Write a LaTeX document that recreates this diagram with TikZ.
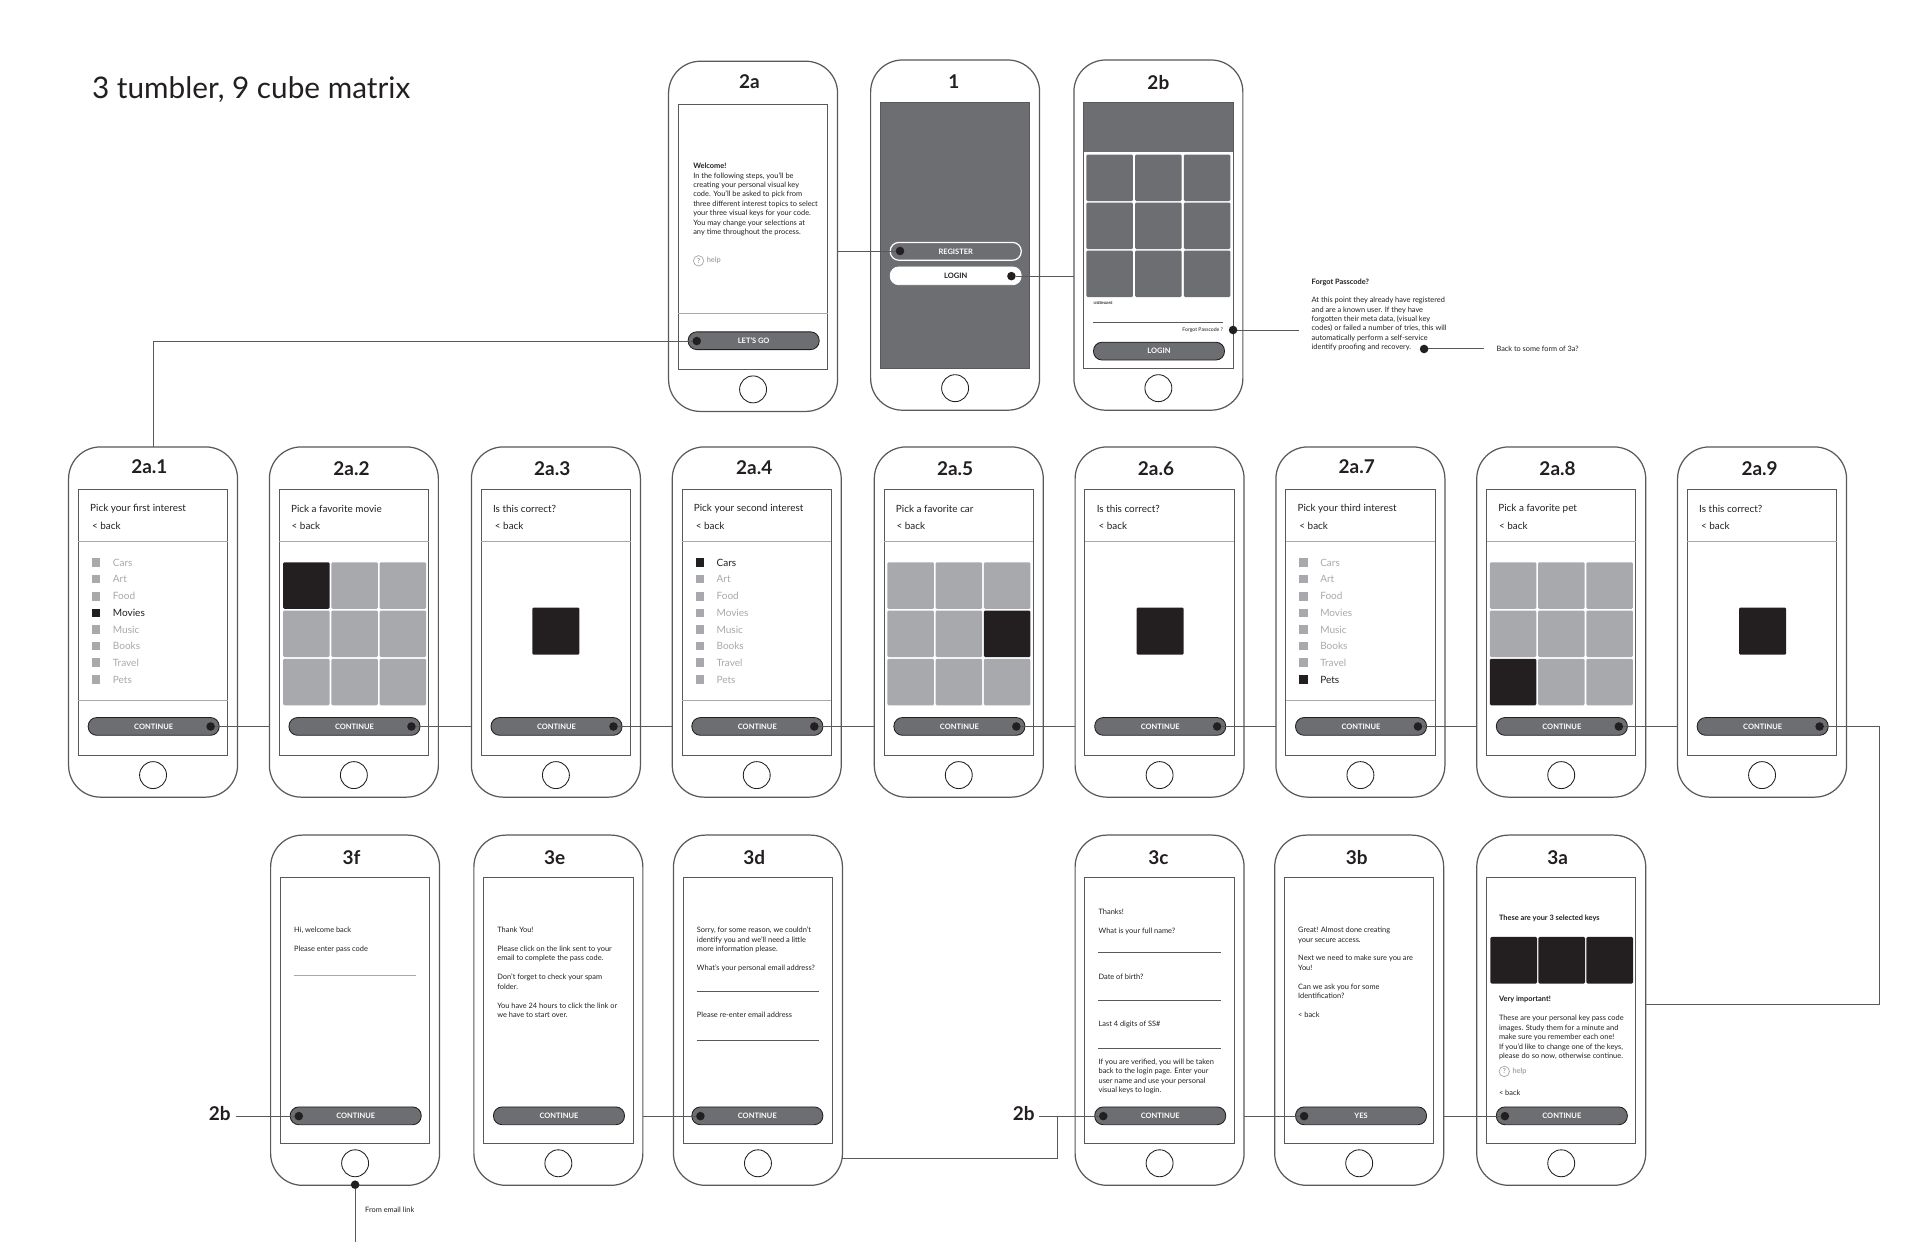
\documentclass[tikz,border=0pt]{standalone}
\usepackage{fontspec}
\setmainfont{Lato}
\definecolor{gdark}{HTML}{6D6E71}
\definecolor{glight}{HTML}{A7A9AC}
\definecolor{ink}{HTML}{231F20}
\definecolor{edge}{HTML}{58595B}
\tikzset{
 phonebody/.style={draw=edge,line width=1pt,fill=white,rounded corners=26pt,minimum width=138pt,minimum height=286pt,anchor=north west,inner sep=0pt,outer sep=0pt},
 screenbox/.style={draw=edge,line width=0.8pt,fill=white,minimum width=122pt,minimum height=217pt,anchor=north west,inner sep=0pt,outer sep=0pt},
 homebtn/.style={circle,draw=ink,line width=0.7pt,fill=white,minimum size=22pt,inner sep=0pt},
 phonetitle/.style={font=\fontsize{15.5}{16}\selectfont\bfseries,text=ink,inner sep=0pt},
 btnbox/.style={draw=ink,line width=0.7pt,fill=gdark,rounded corners=7pt,minimum width=107pt,minimum height=14.5pt,anchor=north west,inner sep=0pt,outer sep=0pt,text=white,font=\fontsize{6.1}{7}\selectfont\bfseries},
 btnwhite/.style={btnbox,draw=white,line width=1pt},
 btnlight/.style={btnbox,draw=white,fill=white,text=ink},
 dotmark/.style={circle,fill=ink,minimum size=7pt,inner sep=0pt,outer sep=0pt},
 link/.style={draw=edge,line width=0.8pt},
 rulegray/.style={draw=glight,line width=0.8pt},
 ruledark/.style={draw=edge,line width=0.6pt},
 bodytext/.style={font=\fontsize{6.05}{7.7}\selectfont,text=ink,align=left,anchor=north west,inner sep=0pt},
 headtext/.style={font=\fontsize{8.1}{9}\selectfont,text=ink,anchor=west,inner sep=0pt},
 listtext/.style={font=\fontsize{8.2}{9}\selectfont,text=glight,anchor=west,inner sep=0pt},
 swatch/.style={fill=glight,minimum size=7pt,inner sep=0pt},
 cell/.style={fill=glight,rounded corners=1pt,minimum size=38pt,anchor=north west,inner sep=0pt},
 flowlabel/.style={font=\fontsize{15.5}{16}\selectfont\bfseries,text=ink,inner sep=4pt,outer sep=0pt},
 helpring/.style={circle,draw=glight,line width=0.6pt,minimum size=8.5pt,inner sep=0pt,text=gdark,font=\fontsize{5.5}{6}\selectfont},
 helptext/.style={font=\fontsize{6}{7}\selectfont\bfseries,text=glight,anchor=west,inner sep=0pt},
}
% name, x, y, title, title dx, title dy
\newcommand{\phone}[6]{%
 \node[phonebody] (#1) at (#2,#3) {};
 \node[screenbox] (#1s) at (#2+8,#3+35) {};
 \node[homebtn] (#1h) at (#2+69,#3+268) {};
 \node[phonetitle] (#1t) at (#2+#5,#3+#6) {#4};
}
% name, phone x, phone y, button text, dot dx
\newcommand{\flowbtn}[5]{%
 \node[btnbox] (#1b) at (#2+16,#3+221) {#4};
 \node[dotmark] (#1d) at (#2+#5,#3+228.3) {};
}
% name, phone x, phone y, line1, back dx
\newcommand{\header}[5]{%
 \node[headtext] (#1h1) at (#2+17.5,#3+50.3) {#4};
 \node[headtext] (#1h2) at (#2+#5,#3+64.3) {< back};
 \draw[rulegray] (#2+8,#3+77) -- (#2+130,#3+77);
}
% name, phone x, phone y, selected index
\newcommand{\picklist}[4]{%
 \foreach \i/\lbl/\yy in {1/Cars/94.5,2/Art/108,3/Food/122,4/Movies/135.5,5/Music/149,6/Books/162.5,7/Travel/176,8/Pets/190}{
  \ifnum\i=#4\relax
   \node[swatch,fill=ink] (#1q\i) at (#2+22.5,#3+\yy) {};
   \node[listtext,text=ink] (#1w\i) at (#2+36,#3+\yy) {\lbl};
  \else
   \node[swatch] (#1q\i) at (#2+22.5,#3+\yy) {};
   \node[listtext] (#1w\i) at (#2+36,#3+\yy) {\lbl};
  \fi
 }
 \draw[rulegray] (#2+8,#3+207) -- (#2+130,#3+207);
}
% name, phone x, phone y, selected index (row*3+col+1)
\newcommand{\gridnine}[4]{%
 \foreach \r in {0,1,2}{\foreach \c in {0,1,2}{
  \pgfmathtruncatemacro\k{\r*3+\c+1}
  \ifnum\k=#4\relax
   \node[cell,fill=ink] (#1c\k) at (#2+11+\c*39.4,#3+94+\r*39.4) {};
  \else
   \node[cell] (#1c\k) at (#2+11+\c*39.4,#3+94+\r*39.4) {};
  \fi
 }}
}
\newcommand{\bigkey}[3]{\node[cell,fill=ink,minimum size=38.5pt] (#1k) at (#2+49.5,#3+131) {};}
\begin{document}
\begin{tikzpicture}[x=1pt,y=-1pt]
\useasboundingbox (0,0) rectangle (1568,1014);
\fill[white] (0,0) rectangle (1568,1014);
\node[font=\fontsize{24.3}{26}\selectfont,text=ink,anchor=west,inner sep=0pt] (maintitle) at (75,73.5) {3 tumbler, 9 cube matrix};

% ---- top row
\phone{pa}{546}{50}{2a}{66}{17}
\phone{pi}{711}{49}{1}{68}{18}
\phone{pb}{877}{49}{2b}{69}{18}

\node[bodytext] (patext) at (566,133) {\textbf{Welcome!}\\In the following steps, you'll be\\creating your personal visual key\\code. You'll be asked to pick from\\three different interest topics to select\\your three visual keys for your code.\\You may change your selections at\\any time throughout the process.};
\node[helpring] (pahr) at (570.5,213) {?};
\node[helptext] (paht) at (577,213) {help};
\draw[rulegray] (554,256) -- (676,256);
\node[btnbox] (pab) at (562,271) {LET'S GO};
\node[dotmark] (pad) at (569,278.5) {};

\fill[gdark] (719,84) rectangle (841,301);
\draw[edge,line width=0.8pt] (719,84) rectangle (841,301);
\node[btnwhite] (pireg) at (727,198) {REGISTER};
\node[dotmark] (pird) at (735,205) {};
\node[btnlight] (pilog) at (727,218) {LOGIN};
\node[dotmark] (pild) at (826,225.5) {};

\fill[gdark] (885,84) rectangle (1007,124);
\foreach \r in {0,1,2}{\foreach \c in {0,1,2}{
 \pgfmathtruncatemacro\k{\r*3+\c+1}
 \node[cell,fill=gdark] (pbc\k) at (887+\c*39.8,126+\r*39.2) {};
}}
\node[font=\fontsize{2.8}{3}\selectfont\bfseries,text=ink,anchor=west,inner sep=0pt] (pbuser) at (893,248) {USERNAME};
\draw[ruledark] (893,263) -- (999,263);
\node[font=\fontsize{4.2}{5}\selectfont,text=ink,anchor=east,inner sep=0pt] (pbforgot) at (999,269.5) {Forgot Passcode ?};
\node[dotmark] (pbfd) at (1007,269.5) {};
\node[btnbox] (pbb) at (893,279.5) {LOGIN};

\node[bodytext] (fgt) at (1071,227.5) {\textbf{Forgot Passcode?}};
\node[bodytext] (fgb) at (1071,242.5) {At this point they already have registered\\and are a known user. If they have\\forgotten their meta data, (visual key\\codes) or failed a number of tries, this will\\automatically perform a self-service\\identify proofing and recovery.};
\node[dotmark] (fgd) at (1163,285) {};
\node[font=\fontsize{6}{7}\selectfont,text=ink,anchor=west,inner sep=0pt] (fgback) at (1222,285) {Back to some form of 3a?};
\coordinate (fgfree) at (1061,269.5);
\coordinate (fgbackfree) at (1212,285);

% ---- middle row
\phone{pai}{56}{365}{2a.1}{66}{16}
\phone{paii}{220}{365}{2a.2}{67}{18}
\phone{paiii}{385}{365}{2a.3}{66}{18}
\phone{paiv}{549}{365}{2a.4}{67}{16.5}
\phone{pav}{714}{365}{2a.5}{66}{18}
\phone{pavi}{878}{365}{2a.6}{66}{18}
\phone{pavii}{1042}{365}{2a.7}{66}{16}
\phone{paviii}{1206}{365}{2a.8}{66}{18}
\phone{paix}{1370}{365}{2a.9}{67}{18}

\header{pai}{56}{365}{Pick your first interest}{19}
\header{paii}{220}{365}{Pick a favorite movie}{18}
\header{paiii}{385}{365}{Is this correct?}{19}
\header{paiv}{549}{365}{Pick your second interest}{19}
\header{pav}{714}{365}{Pick a favorite car}{18}
\header{pavi}{878}{365}{Is this correct?}{19}
\header{pavii}{1042}{365}{Pick your third interest}{19}
\header{paviii}{1206}{365}{Pick a favorite pet}{18}
\header{paix}{1370}{365}{Is this correct?}{19}

\picklist{pai}{56}{365}{4}
\gridnine{paii}{220}{365}{1}
\bigkey{paiii}{385}{365}
\picklist{paiv}{549}{365}{1}
\gridnine{pav}{713.5}{365}{6}
\bigkey{pavi}{878.5}{365}
\picklist{pavii}{1042}{365}{8}
\gridnine{paviii}{1205.5}{365}{7}
\bigkey{paix}{1370.5}{365}

\flowbtn{pai}{56}{365}{CONTINUE}{116}
\flowbtn{paii}{220}{365}{CONTINUE}{116}
\flowbtn{paiii}{385}{365}{CONTINUE}{116}
\flowbtn{paiv}{549}{365}{CONTINUE}{116}
\flowbtn{pav}{714}{365}{CONTINUE}{116}
\flowbtn{pavi}{878}{365}{CONTINUE}{116}
\flowbtn{pavii}{1042}{365}{CONTINUE}{116}
\flowbtn{paviii}{1206}{365}{CONTINUE}{116}
\flowbtn{paix}{1370}{365}{CONTINUE}{116}

% ---- bottom row
\phone{pf}{221}{682}{3f}{66}{18}
\phone{pe}{387}{682}{3e}{66}{18}
\phone{pdd}{550}{682}{3d}{66}{18}
\phone{pcc}{878}{682}{3c}{68}{18}
\phone{pbb3}{1041}{682}{3b}{67}{18}
\phone{paa}{1206}{682}{3a}{66}{18}

\node[bodytext] (ftext) at (240,757) {Hi, welcome back\\[7.7pt]Please enter pass code};
\draw[rulegray] (240,797) -- (340,797);
\node[btnbox] (fb) at (237,904) {CONTINUE};
\node[dotmark] (fd) at (244,911.5) {};
\node[dotmark] (fbot) at (290,967.5) {};
\node[bodytext] (fmail) at (298,985.5) {From email link};

\node[bodytext] (etext) at (406,757) {Thank You!\\[7.7pt]Please click on the link sent to your\\email to complete the pass code.\\[7.7pt]Don't forget to check your spam\\folder.\\[7.7pt]You have 24 hours to click the link or\\we have to start over.};
\node[btnbox] (eb) at (403,904) {CONTINUE};

\node[bodytext] (dtext) at (569,757) {Sorry, for some reason, we couldn't\\identify you and we'll need a little\\more information please.\\[7.7pt]What's your personal email address?};
\draw[ruledark] (569,810) -- (669,810);
\node[bodytext] (dtext2) at (569,826) {Please re-enter email address};
\draw[ruledark] (569,850) -- (669,850);
\node[btnbox] (db) at (565,904) {CONTINUE};
\node[dotmark] (dd) at (572,911.5) {};

\node[bodytext] (ctext) at (897,742) {Thanks!\\[7.7pt]What is your full name?};
\draw[ruledark] (897,778) -- (997,778);
\node[bodytext] (ctext2) at (897,795.5) {Date of birth?};
\draw[ruledark] (897,817) -- (997,817);
\node[bodytext] (ctext3) at (897,834) {Last 4 digits of SS\#};
\draw[ruledark] (897,856) -- (997,856);
\node[bodytext] (ctext4) at (897,864.5) {If you are verified, you will be taken\\back to the login page. Enter your\\user name and use your personal\\visual keys to login.};
\node[btnbox] (cb) at (894,904) {CONTINUE};
\node[dotmark] (cd) at (901,911.5) {};

\node[bodytext] (btext) at (1060,757) {Great! Almost done creating\\your secure access.\\[7.7pt]Next we need to make sure you are\\You!\\[7.7pt]Can we ask you for some\\Identification?\\[7.7pt]< back};
\node[btnbox] (bb) at (1058,904) {YES};
\node[dotmark] (bd) at (1065,911.5) {};

\node[bodytext] (atext) at (1224,747) {\textbf{These are your 3 selected keys}};
\foreach \c in {0,1,2}{\node[cell,fill=ink] (ak\c) at (1217+\c*39.2,765) {};}
\node[bodytext] (atext2) at (1224,813) {\textbf{Very important!}};
\node[bodytext] (atext3) at (1224,829) {These are your personal key pass code\\images. Study them for a minute and\\make sure you remember each one!\\If you'd like to change one of the keys,\\please do so now, otherwise continue.};
\node[helpring] (ahr) at (1228.5,875) {?};
\node[helptext] (aht) at (1235,875) {help};
\node[bodytext] (atext4) at (1224,890) {< back};
\node[btnbox] (ab) at (1222,904) {CONTINUE};
\node[dotmark] (ad) at (1229,911.5) {};

\node[flowlabel,anchor=center] (labf) at (179.5,909.5) {2b};
\node[flowlabel,anchor=center] (labc) at (836,909.5) {2b};

\coordinate (rt1) at (1535,593.3);
\coordinate (rt2) at (1535,820);
\coordinate (jn) at (864,946);
\coordinate (mailend) at (290,1014);

% ---- connectors
\draw[link] (pai.north) -- (pai.north |- pad) -- (pad);
\draw[link] (pa.east |- pird) -- (pird);
\draw[link] (pild) -- (pb.west |- pild);
\draw[link] (pbfd) -- (fgfree);
\draw[link] (fgd) -- (fgbackfree);
\draw[link] (paid) -- (paii.west |- paid);
\draw[link] (paiid) -- (paiii.west |- paiid);
\draw[link] (paiiid) -- (paiv.west |- paiiid);
\draw[link] (paivd) -- (pav.west |- paivd);
\draw[link] (pavd) -- (pavi.west |- pavd);
\draw[link] (pavid) -- (pavii.west |- pavid);
\draw[link] (paviid) -- (paviii.west |- paviid);
\draw[link] (paviiid) -- (paix.west |- paviiid);
\draw[link] (paixd) -- (rt1) -- (rt2) -- (paa.east |- rt2);
\draw[link] (pbb3.east |- ad) -- (ad);
\draw[link] (pcc.east |- bd) -- (bd);
\draw[link] (pdd.east |- jn) -- (jn) -- (jn |- cd);
\draw[link] (labc.east |- cd) -- (cd);
\draw[link] (pe.east |- dd) -- (dd);
\draw[link] (labf.east |- fd) -- (fd);
\draw[link] (fbot) -- (mailend);
\end{tikzpicture}
\end{document}
